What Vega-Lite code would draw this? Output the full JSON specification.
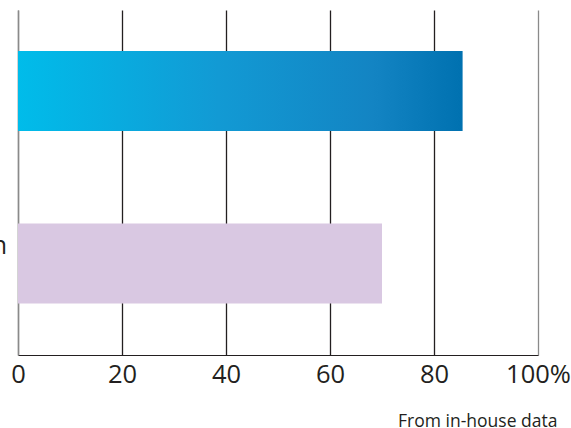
{
  "$schema": "https://vega.github.io/schema/vega-lite/v6.json",
  "autosize": "none",
  "width": 520,
  "height": 345,
  "padding": {"left": 18, "top": 10, "right": 33, "bottom": 73},
  "background": "white",
  "config": {
    "view": {"stroke": null},
    "font": "Open Sans"
  },
  "title": {
    "text": "From in-house data",
    "orient": "bottom",
    "anchor": "end",
    "dx": -13,
    "offset": 25,
    "fontSize": 17.5,
    "fontWeight": "normal",
    "font": "Open Sans",
    "color": "#231f20"
  },
  "data": {
    "values": [
      {"group": "New product", "share": 85.5, "series": "new"},
      {"group": "Standard design product", "share": 70, "series": "standard"}
    ]
  },
  "encoding": {
    "y": {
      "field": "group",
      "type": "nominal",
      "sort": null,
      "title": null,
      "scale": {"paddingInner": 0.536, "paddingOuter": 0.268, "align": 0.443},
      "axis": {
        "ticks": false,
        "domainColor": "#8a8a8a",
        "domainWidth": 1.5,
        "labelAlign": "left",
        "labelPadding": 201,
        "labelOffset": -17,
        "labelFontSize": 25,
        "labelColor": "#231f20",
        "labelLineHeight": 34,
        "labelLimit": 0,
        "labelExpr": "datum.label == 'Standard design product' ? ['Standard design', 'product'] : ['New', 'product']"
      }
    },
    "x": {
      "field": "share",
      "type": "quantitative",
      "title": null,
      "scale": {"domain": [0, 100], "nice": false},
      "axis": {
        "values": [0, 20, 40, 60, 80, 100],
        "ticks": false,
        "domainColor": "#231f20",
        "domainWidth": 1.2,
        "grid": true,
        "gridColor": {"condition": {"test": "datum.value == 0 || datum.value == 100", "value": "#8a8a8a"}, "value": "#231f20"},
        "gridWidth": 1.3,
        "labelFontSize": 25.5,
        "labelColor": "#231f20",
        "labelPadding": 7,
        "labelFlush": false,
        "labelOverlap": false,
        "labelExpr": "datum.value == 100 ? '100%' : datum.label"
      }
    }
  },
  "layer": [
    {
      "transform": [{"filter": "datum.series == 'new'"}],
      "mark": {
        "type": "bar",
        "color": {
          "gradient": "linear",
          "x1": 0, "x2": 1, "y1": 0, "y2": 0,
          "stops": [
            {"offset": 0, "color": "#00bcea"},
            {"offset": 0.45, "color": "#129ad4"},
            {"offset": 0.8, "color": "#1384c3"},
            {"offset": 1, "color": "#0071b0"}
          ]
        }
      }
    },
    {
      "transform": [{"filter": "datum.series == 'standard'"}],
      "mark": {"type": "bar", "color": "#d9c8e2"}
    }
  ]
}
